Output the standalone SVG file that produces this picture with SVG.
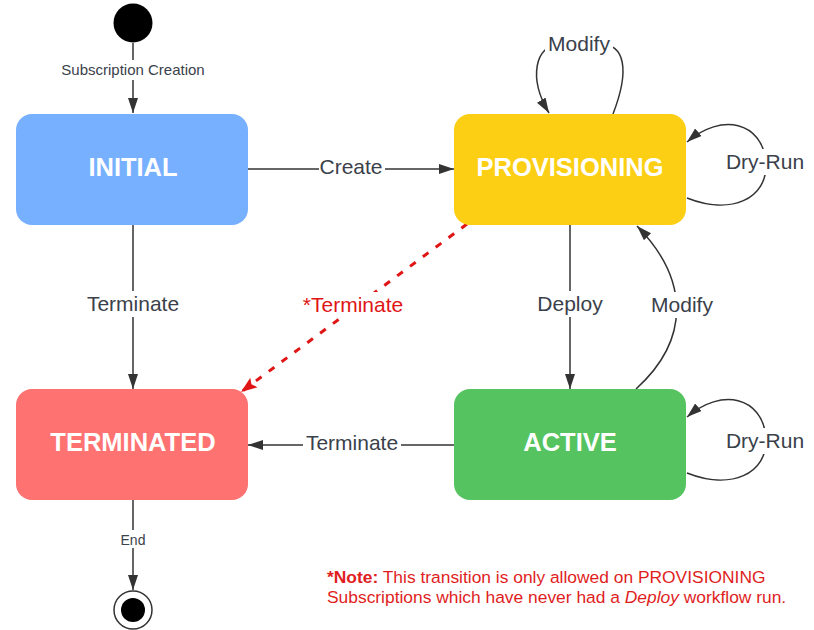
<svg xmlns="http://www.w3.org/2000/svg" width="814" height="630" viewBox="0 0 814 630">
<style>
.node text{font-family:"Liberation Sans",Arial,sans-serif;font-weight:bold;font-size:25.5px;fill:#fff;text-anchor:middle}
.lbl{font-family:"Liberation Sans",Arial,sans-serif;font-size:21px;fill:#3a414a;text-anchor:middle}
.sm{font-size:15px}
.edge{fill:none;stroke:#333;stroke-width:1.5}
.bg{fill:#fff}
.note{font-family:"Liberation Sans",Arial,sans-serif;font-size:17.4px;fill:#e01e1e}
</style>
<defs>
<marker id="ah" markerUnits="userSpaceOnUse" markerWidth="16" markerHeight="12" refX="15" refY="5" orient="auto">
<path d="M0,0 L15,5 L0,10 Z" fill="#333"/>
</marker>
<marker id="ahr" markerUnits="userSpaceOnUse" markerWidth="18" markerHeight="14" refX="16" refY="6" orient="auto">
<path d="M0,0 L16,6 L0,12 L3,6 Z" fill="#e01515"/>
</marker>
</defs>
<rect width="814" height="630" fill="#fff"/>

<g id="start"><circle cx="133" cy="23" r="19.5" fill="#000"/></g>

<g id="connectors">
<path class="edge" d="M133,43 V113" marker-end="url(#ah)"/>
<path class="edge" d="M248,169 H454" marker-end="url(#ah)"/>
<path class="edge" d="M133,225 V389" marker-end="url(#ah)"/>
<path class="edge" d="M570,225 V389" marker-end="url(#ah)"/>
<path class="edge" d="M454,445 H248" marker-end="url(#ah)"/>
<path class="edge" d="M636,389 C 690,340 690,280 637,226" marker-end="url(#ah)"/>
<path class="edge" d="M613,114 C 630,70 625,44 600,44 L 560,44 C 535,45 528,78 549,113" marker-end="url(#ah)"/>
<path class="edge" d="M687,198 C 730,215 768,200 766,162 C 762,122 722,112 687,142" marker-end="url(#ah)"/>
<path class="edge" d="M687,473 C 730,490 768,475 766,437 C 762,397 722,387 687,417" marker-end="url(#ah)"/>
<path class="edge" d="M133,500 V590" marker-end="url(#ah)"/>
<path d="M467,224 L241,392" fill="none" stroke="#e01515" stroke-width="3" stroke-dasharray="7,9" marker-end="url(#ahr)"/>

<rect class="bg" x="58" y="60" width="150" height="20"/>
<text class="lbl sm" x="133" y="75">Subscription Creation</text>
<rect class="bg" x="319" y="156" width="66" height="24"/>
<text class="lbl" x="351" y="174">Create</text>
<rect class="bg" x="84" y="291" width="98" height="26"/>
<text class="lbl" x="133" y="311">Terminate</text>
<rect class="bg" x="535" y="291" width="70" height="26"/>
<text class="lbl" x="570" y="311">Deploy</text>
<rect class="bg" x="303" y="432" width="98" height="26"/>
<text class="lbl" x="352" y="450">Terminate</text>
<rect class="bg" x="648" y="292" width="68" height="26"/>
<text class="lbl" x="682" y="312">Modify</text>
<rect class="bg" x="545" y="31" width="68" height="26"/>
<text class="lbl" x="579" y="51">Modify</text>
<rect class="bg" x="724" y="149" width="82" height="26"/>
<text class="lbl" x="765" y="169">Dry-Run</text>
<rect class="bg" x="724" y="428" width="82" height="26"/>
<text class="lbl" x="765" y="448">Dry-Run</text>
<rect class="bg" x="300" y="292" width="106" height="26"/>
<text class="lbl" x="353" y="312" style="fill:#e01515">*Terminate</text>
<rect class="bg" x="116" y="530" width="34" height="18"/>
<text class="lbl" x="133" y="545" style="font-size:14px">End</text>
</g>

<g id="initial" class="node"><rect x="16" y="114" width="232" height="111" rx="16" fill="#76b0ff"/><text x="133" y="176">INITIAL</text></g>
<g id="provisioning" class="node"><rect x="454" y="114" width="232" height="111" rx="16" fill="#fccf14"/><text x="570" y="176">PROVISIONING</text></g>
<g id="terminated" class="node"><rect x="16" y="389" width="232" height="111" rx="16" fill="#ff7272"/><text x="133" y="451">TERMINATED</text></g>
<g id="active" class="node"><rect x="454" y="389" width="232" height="111" rx="16" fill="#55c460"/><text x="570" y="451">ACTIVE</text></g>

<g id="end"><circle cx="133" cy="610" r="19" fill="#fff" stroke="#333" stroke-width="1.5"/><circle cx="133" cy="610" r="12" fill="#000"/></g>

<g id="note">
<text class="note" x="327" y="583"><tspan font-weight="bold">*Note:</tspan> This transition is only allowed on PROVISIONING</text>
<text class="note" x="327" y="603">Subscriptions which have never had a <tspan font-style="italic">Deploy</tspan> workflow run.</text>
</g>
</svg>
